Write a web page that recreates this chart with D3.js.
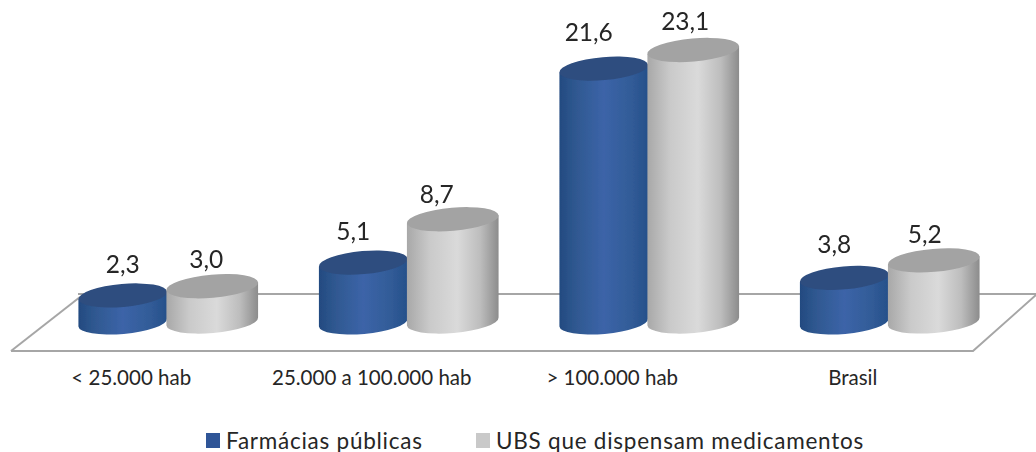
<!DOCTYPE html>
<html><head><meta charset="utf-8">
<script src="https://cdnjs.cloudflare.com/ajax/libs/d3/7.9.0/d3.min.js"></script>
<style>
html,body{margin:0;padding:0;background:#fff}
svg{display:block}
text{font-family:Lato,"Open Sans",sans-serif;fill:#262626}
</style></head><body>
<div id="chart"></div>
<script>
const categories = ["< 25.000 hab","25.000 a 100.000 hab","> 100.000 hab","Brasil"];
const seriesNames = ["Farmácias públicas","UBS que dispensam medicamentos"];
const farmacias = [2.3,5.1,21.6,3.8];
const ubs = [3.0,8.7,23.1,5.2];
const farmaciasLabels = ["2,3","5,1","21,6","3,8"];
const ubsLabels = ["3,0","8,7","23,1","5,2"];

const W=1036,H=452;
const svg=d3.select("#chart").append("svg").attr("width",W).attr("height",H);
const defs=svg.append("defs");
function grad(id,stops){
  const g=defs.append("linearGradient").attr("id",id).attr("x1","0%").attr("x2","100%").attr("y1","0%").attr("y2","0%");
  stops.forEach(([o,c])=>g.append("stop").attr("offset",o).attr("stop-color",c));
}
grad("gBlue",[["0%","#234a80"],["18%","#2f5890"],["50%","#3c64a8"],["80%","#325c98"],["100%","#26508a"]]);
grad("gGray",[["0%","#a8a8a8"],["25%","#cacaca"],["55%","#dadada"],["80%","#bdbdbd"],["100%","#8c8c8c"]]);
defs.append("filter").attr("id","soft").append("feGaussianBlur").attr("stdDeviation",0.5);

// scales
const x=d3.scaleBand().domain(categories).range([47,1009]).paddingInner(0).paddingOuter(0);
const y0=322.5;
const y=d3.scaleLinear().domain([0,23.1]).range([y0,y0-271.5]);

// floor
const floor=svg.append("g").attr("fill","none").attr("stroke","#a6a6a6").attr("stroke-width",2);
floor.append("path").attr("d","M11,351L973,351L1036,295");
floor.append("path").attr("d","M11,351L80,297");
floor.append("path").attr("d","M78,294L1036,294");

const tiltDeg=-5, ry=11.5;
const series=[
 {vals:farmacias,labels:farmaciasLabels,off:-44.5,rx:44.5,side:"url(#gBlue)",top:"#2e4d7f",nudge:[0,-10,-15,-10],lift:[32,32,37,34],base:0},
 {vals:ubs,labels:ubsLabels,off:45,rx:46,side:"url(#gGray)",top:"#a3a3a3",nudge:[-6,-16,-8,-9],lift:[28,26,30,27],base:-1}
];
const bars=svg.append("g").attr("filter","url(#soft)");
const rad=tiltDeg*Math.PI/180;
series.forEach(s=>{
  const dx=s.rx*Math.cos(rad), dy=s.rx*Math.sin(rad);
  const gr=bars.selectAll(null).data(s.vals).join("g");
  gr.append("path").attr("fill",s.side).attr("d",(d,i)=>{
    const cx=x(categories[i])+x.bandwidth()/2+s.off;
    const yt=y(d)+s.base, yb=y0+s.base;
    return `M${cx-dx},${yt-dy}L${cx-dx},${yb-dy}A${s.rx},${ry} ${tiltDeg} 0 0 ${cx+dx},${yb+dy}L${cx+dx},${yt+dy}Z`;
  });
  gr.append("ellipse").attr("rx",s.rx).attr("ry",ry).attr("fill",s.top)
    .attr("transform",(d,i)=>`translate(${x(categories[i])+x.bandwidth()/2+s.off},${y(d)+s.base}) rotate(${tiltDeg})`);
});
// value labels
series.forEach(s=>{
  svg.append("g").selectAll("text").data(s.vals).join("text")
    .attr("x",(d,i)=>x(categories[i])+x.bandwidth()/2+s.off+s.nudge[i])
    .attr("y",(d,i)=>y(d)+s.base-s.lift[i])
    .attr("text-anchor","middle").attr("dominant-baseline","central")
    .attr("font-size",24.5).text((d,i)=>s.labels[i]);
});
// category axis
const ax=svg.append("g").attr("transform","translate(-36,370)")
  .call(d3.axisBottom(x).tickSize(0).tickPadding(0));
ax.select(".domain").remove();
ax.selectAll("text").attr("dy","0.71em").style("font-family","Lato,sans-serif").style("font-size","20.5px").style("fill","#262626");

// legend
const legendX=[206,476];
const lg=svg.append("g").selectAll("g").data(seriesNames).join("g")
  .attr("transform",(d,i)=>`translate(${legendX[i]},433)`);
lg.append("rect").attr("width",14).attr("height",15).attr("fill",(d,i)=>i?"#c9c9c9":"#2f5597");
lg.append("text").attr("x",20).attr("y",7).attr("dominant-baseline","central")
  .attr("font-size",22.5).attr("letter-spacing",0.75).text(d=>d);
</script>
</body></html>
